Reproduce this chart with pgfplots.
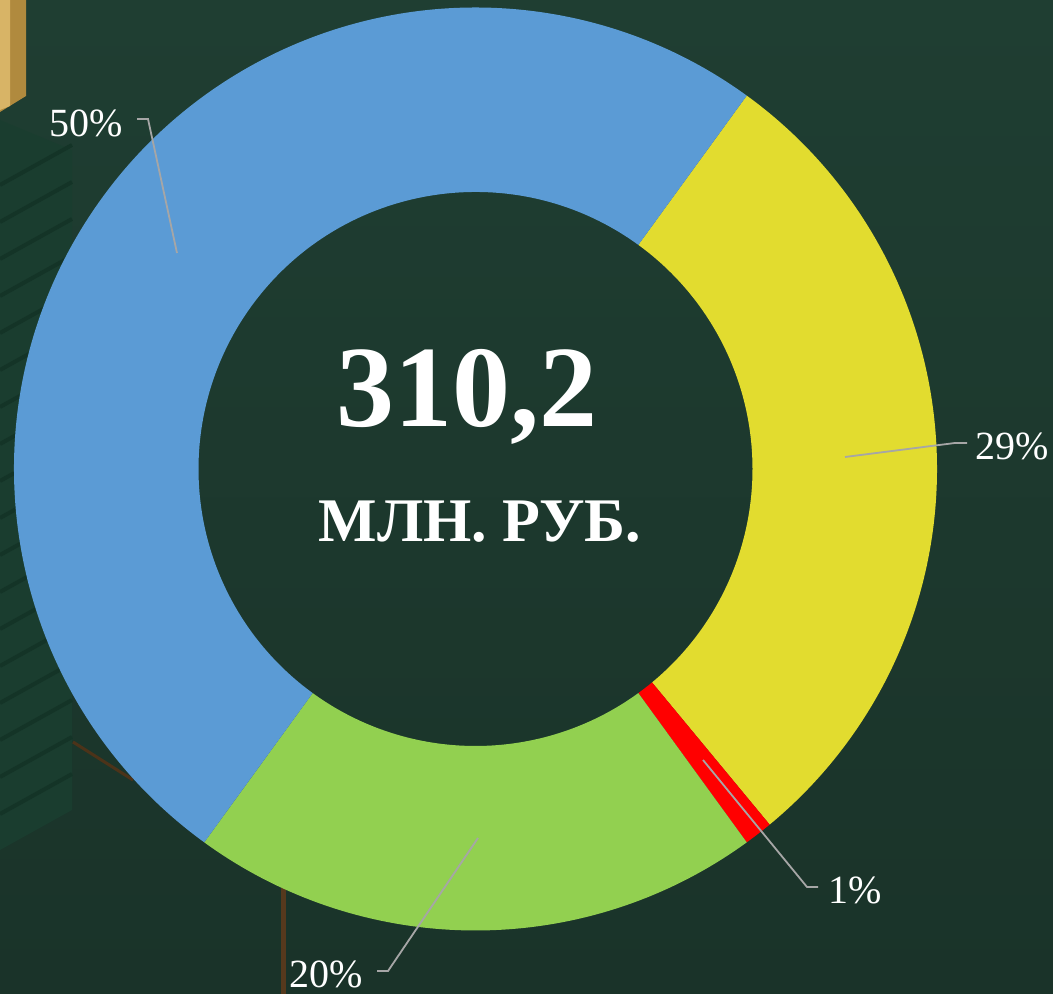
\documentclass[border=0pt]{standalone}
\usepackage{fontspec}
\setmainfont{Liberation Serif}
\usepackage{pgfplots}
\usepackage{pgfplotstable}
\pgfplotsset{compat=1.18}

\definecolor{bgtop}{HTML}{1F3E32}
\definecolor{bgbot}{HTML}{1A3329}
\definecolor{cblue}{HTML}{5B9BD5}
\definecolor{cyellow}{HTML}{E2DC2F}
\definecolor{cred}{HTML}{FF0000}
\definecolor{cgreen}{HTML}{92D050}
\definecolor{leader}{HTML}{A6A6A6}
\definecolor{gold}{HTML}{B08A3E}
\definecolor{goldlight}{HTML}{D8B466}
\definecolor{blinds}{HTML}{1A3D2F}
\definecolor{slat}{HTML}{143427}

% shares in percent, clockwise from the top-right edge
\pgfplotstableread{
share
29
1
20
50
}\sharetable

% centre, radii (pixel units of the reference, y upwards)
\def\cx{475.5}
\def\cy{525}
\def\ro{461.5}
\def\ri{277}
\def\startangle{54}

\pgfplotstablegetelem{0}{share}\of\sharetable
\pgfmathsetmacro\angA{\startangle-3.6*\pgfplotsretval}
\pgfplotstablegetelem{1}{share}\of\sharetable
\pgfmathsetmacro\angB{\angA-3.6*\pgfplotsretval}
\pgfplotstablegetelem{2}{share}\of\sharetable
\pgfmathsetmacro\angC{\angB-3.6*\pgfplotsretval}
\pgfplotstablegetelem{3}{share}\of\sharetable
\pgfmathsetmacro\angD{\angC-3.6*\pgfplotsretval}

% ring sector from angle #1 to #2
\newcommand\sector[3]{%
  \fill[#3] (axis cs:{\cx+\ro*cos(#1)},{\cy+\ro*sin(#1)})
    arc[start angle=#1, end angle=#2, radius=\ro*0.5pt]
    -- (axis cs:{\cx+\ri*cos(#2)},{\cy+\ri*sin(#2)})
    arc[start angle=#2, end angle=#1, radius=\ri*0.5pt] -- cycle;}

\begin{document}
\begin{tikzpicture}
\begin{axis}[
    x=0.5pt, y=0.5pt,
    xmin=0, xmax=1053, ymin=0, ymax=994,
    hide axis, clip=false,
]
\coordinate (bl) at (axis cs:0,0);
\coordinate (tr) at (axis cs:1053,994);
% background
\fill[top color=bgtop, bottom color=bgbot] (axis cs:0,0) rectangle (axis cs:1053,994);
% frame corner and blinds
\fill[gold] (axis cs:0,994) -- (axis cs:26,994) -- (axis cs:26,898) -- (axis cs:0,882) -- cycle;
\fill[goldlight] (axis cs:0,994) -- (axis cs:10,994) -- (axis cs:10,888) -- (axis cs:0,884) -- cycle;
\fill[blinds] (axis cs:0,874) -- (axis cs:72,844) -- (axis cs:72,184) -- (axis cs:0,144) -- cycle;
\pgfplotsinvokeforeach{180,217,254,291,328,365,402,439,476,513,550,587,624,661,698,735,772,809}{
  \draw[slat, line width=2pt] (axis cs:0,#1) -- (axis cs:72,#1+40);
}
\draw[brown!40!black, line width=1.5pt] (axis cs:73,252) -- (axis cs:133,214);
\draw[brown!45!black, line width=2.5pt] (axis cs:283,106) -- (axis cs:283,0);

% donut
\sector{\startangle}{\angA}{cyellow}
\sector{\angA}{\angB}{cred}
\sector{\angB}{\angC}{cgreen}
\sector{\angC}{\angD}{cblue}

% leader lines
\draw[leader, line width=0.9pt] (axis cs:137,875) -- (axis cs:148,875) -- (axis cs:177,741);
\draw[leader, line width=0.9pt] (axis cs:967,551) -- (axis cs:955,551) -- (axis cs:845,537);
\draw[leader, line width=0.9pt] (axis cs:818,107) -- (axis cs:807,107) -- (axis cs:703,234);
\draw[leader, line width=0.9pt] (axis cs:377,23) -- (axis cs:388,23) -- (axis cs:478,156);

% labels
\node[white, inner sep=0, anchor=base, font=\fontsize{20}{22}\selectfont] at (axis cs:86,857) {50\%};
\node[white, inner sep=0, anchor=base, font=\fontsize{20}{22}\selectfont] at (axis cs:1012,534) {29\%};
\node[white, inner sep=0, anchor=base, font=\fontsize{20}{22}\selectfont] at (axis cs:855,90) {1\%};
\node[white, inner sep=0, anchor=base, font=\fontsize{20}{22}\selectfont] at (axis cs:326,6) {20\%};

% centre text
\node[white, inner sep=0, anchor=base, font=\fontsize{58}{60}\selectfont\bfseries] at (axis cs:467,567) {310,2};
\node[white, inner sep=0, anchor=base, font=\fontsize{31}{33}\selectfont\bfseries] at (axis cs:480,452) {МЛН. РУБ.};
\end{axis}
\pgfresetboundingbox
\useasboundingbox (bl) rectangle (tr);
\end{tikzpicture}
\end{document}
